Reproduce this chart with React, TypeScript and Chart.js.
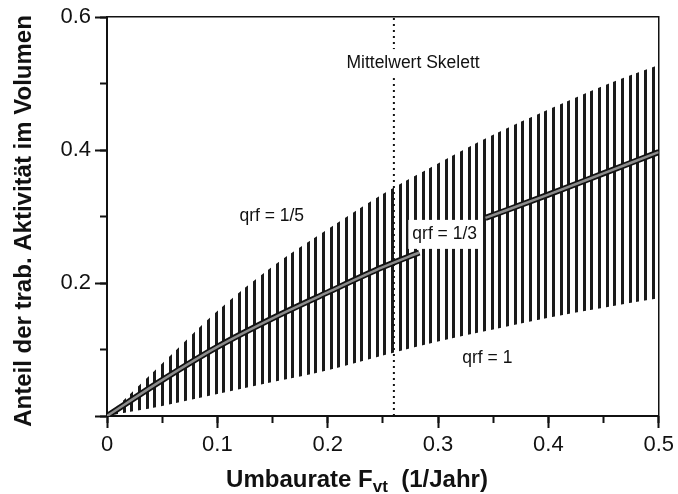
import React, { useEffect, useRef } from 'react';
import { Chart, registerables } from 'chart.js';

Chart.register(...registerables);

// ---- data ----
const envX = [0, 0.05, 0.1, 0.15, 0.2, 0.25, 0.3, 0.35, 0.4, 0.45, 0.5];
const upperQrf5 = [0, 0.079, 0.158, 0.225, 0.281, 0.334, 0.38, 0.423, 0.461, 0.497, 0.528];
const lowerQrf1 = [0, 0.015, 0.033, 0.051, 0.069, 0.091, 0.112, 0.13, 0.148, 0.163, 0.177];
const midX = [0, 0.05, 0.1, 0.15, 0.2, 0.25, 0.283, 0.31, 0.343, 0.4, 0.45, 0.5];
const midQrf3 = [0, 0.054, 0.104, 0.147, 0.186, 0.224, 0.246, null, 0.298, 0.333, 0.365, 0.397];
const skelettX = [0.26, 0.26];
const skelettY = [0, 0.6];
const xTickLabels = ['0', '0.1', '0.2', '0.3', '0.4', '0.5'];
const yTickLabels = ['', '0.2', '0.4', '0.6'];
const annoText = ['Mittelwert Skelett', 'qrf = 1/5', 'qrf = 1/3', 'qrf = 1'];
const annoX = [0.217, 0.12, 0.2767, 0.322];
const annoY = [0.531, 0.3, 0.274, 0.087];
const annoBox = [true, false, true, false];
const yTitle = 'Anteil der trab. Aktivität im Volumen';
const xTitleMain = 'Umbaurate F';
const xTitleSub = 'vt';
const xTitleRest = '  (1/Jahr)';

const FONT = '"Liberation Sans", Arial, Helvetica, sans-serif';
const INK = '#111';

const pts = (xs: number[], ys: (number | null)[]) => xs.map((x, i) => ({ x, y: ys[i] }));

export default function App() {
  const ref = useRef<HTMLCanvasElement>(null);

  useEffect(() => {
    const canvas = ref.current!;
    const ctx = canvas.getContext('2d')!;
    const pc = document.createElement('canvas');
    pc.width = 23;
    pc.height = 4;
    const p = pc.getContext('2d')!;
    p.fillStyle = '#1a1a1a';
    [0, 8, 15].forEach((x) => p.fillRect(x, 0, 3, 4));
    const pattern = ctx.createPattern(pc, 'repeat')!;

    const annotations = {
      id: 'annotations',
      afterDatasetsDraw(chart: any) {
        const c = chart.ctx;
        const xs = chart.scales.x;
        const ys = chart.scales.y;
        c.save();
        c.font = `17.5px ${FONT}`;
        c.textBaseline = 'middle';
        c.textAlign = 'left';
        annoText.forEach((t, i) => {
          const px = xs.getPixelForValue(annoX[i]);
          const py = ys.getPixelForValue(annoY[i]);
          const w = c.measureText(t).width;
          if (annoBox[i]) {
            c.fillStyle = '#fff';
            c.fillRect(px - 4, py - 14, w + 10, 29);
          }
          c.fillStyle = INK;
          c.fillText(t, px, py);
        });
        c.restore();
      },
    };

    const titles = {
      id: 'titles',
      afterDraw(chart: any) {
        const c = chart.ctx;
        c.save();
        c.fillStyle = INK;
        c.font = `bold 24px ${FONT}`;
        c.translate(31, 221);
        c.rotate(-Math.PI / 2);
        c.textAlign = 'center';
        c.textBaseline = 'alphabetic';
        c.fillText(yTitle, 0, 0);
        c.restore();
        c.save();
        c.fillStyle = INK;
        c.textAlign = 'left';
        c.textBaseline = 'alphabetic';
        const big = `bold 24px ${FONT}`;
        const small = `bold 17px ${FONT}`;
        c.font = big;
        const w1 = c.measureText(xTitleMain).width;
        const w3 = c.measureText(xTitleRest).width;
        c.font = small;
        const w2 = c.measureText(xTitleSub).width;
        const total = w1 + w2 + w3;
        const cx = 357;
        let x = cx - total / 2;
        const base = 487;
        c.font = big;
        c.fillText(xTitleMain, x, base);
        x += w1;
        c.font = small;
        c.fillText(xTitleSub, x, base + 5);
        x += w2;
        c.font = big;
        c.fillText(xTitleRest, x, base);
        c.restore();
      },
    };

    const tickFont = { family: FONT, size: 22 };

    const chart = new Chart(canvas, {
      type: 'line',
      data: {
        datasets: [
          {
            label: 'Mittelwert Skelett',
            data: pts(skelettX, skelettY),
            borderColor: INK,
            borderWidth: 2,
            borderDash: [2, 4],
            pointRadius: 0,
            fill: false,
          },
          {
            label: 'qrf = 1/3 inner',
            data: pts(midX, midQrf3),
            borderColor: '#8c8c8c',
            borderWidth: 2.5,
            pointRadius: 0,
            fill: false,
            spanGaps: false,
            cubicInterpolationMode: 'monotone',
          },
          {
            label: 'qrf = 1/3',
            data: pts(midX, midQrf3),
            borderColor: INK,
            borderWidth: 6,
            pointRadius: 0,
            fill: false,
            spanGaps: false,
            cubicInterpolationMode: 'monotone',
          },
          {
            label: 'qrf = 1/5',
            data: pts(envX, upperQrf5),
            borderWidth: 0,
            borderColor: 'rgba(0,0,0,0)',
            backgroundColor: pattern as any,
            pointRadius: 0,
            cubicInterpolationMode: 'monotone',
            fill: '+1',
          },
          {
            label: 'qrf = 1',
            data: pts(envX, lowerQrf1),
            borderWidth: 0,
            borderColor: 'rgba(0,0,0,0)',
            pointRadius: 0,
            cubicInterpolationMode: 'monotone',
            fill: false,
          },
        ] as any,
      },
      options: {
        responsive: false,
        animation: false,
        devicePixelRatio: 1,
        layout: { padding: { top: 16, right: 18, left: 0, bottom: 0 } },
        plugins: { legend: { display: false }, tooltip: { enabled: false } },
        scales: {
          x: {
            type: 'linear',
            position: 'bottom',
            min: 0,
            max: 0.5,
            weight: 2,
            ticks: {
              stepSize: 0.1,
              autoSkip: false,
              maxRotation: 0,
              font: tickFont,
              color: INK,
              padding: 4,
              callback: (_v: any, i: number) => xTickLabels[i] ?? '',
            },
            grid: { drawOnChartArea: false, tickLength: 12, tickWidth: 2, tickColor: INK },
            border: { display: true, color: INK, width: 2 },
            afterFit: (s: any) => { s.height = 78; },
          },
          xMinor: {
            type: 'linear',
            position: 'bottom',
            min: 0,
            max: 0.5,
            weight: 0,
            ticks: { stepSize: 0.05, display: false, autoSkip: false },
            grid: { drawOnChartArea: false, tickLength: 7, tickWidth: 2, tickColor: INK },
            border: { display: false },
            afterFit: (s: any) => { s.height = 0; },
          },
          xTop: {
            type: 'linear',
            position: 'top',
            min: 0,
            max: 0.5,
            ticks: { display: false },
            grid: { display: false },
            border: { display: true, color: INK, width: 1.5 },
            afterFit: (s: any) => { s.height = 0; },
          },
          y: {
            type: 'linear',
            position: 'left',
            min: 0,
            max: 0.6,
            weight: 2,
            ticks: {
              stepSize: 0.2,
              autoSkip: false,
              font: tickFont,
              color: INK,
              padding: 4,
              callback: (_v: any, i: number) => yTickLabels[i] ?? '',
            },
            grid: { drawOnChartArea: false, tickLength: 12, tickWidth: 2, tickColor: INK },
            border: { display: true, color: INK, width: 2 },
            afterFit: (s: any) => { s.width = 107; },
          },
          yMinor: {
            type: 'linear',
            position: 'left',
            min: 0,
            max: 0.6,
            weight: 0,
            ticks: { stepSize: 0.1, display: false, autoSkip: false },
            grid: { drawOnChartArea: false, tickLength: 7, tickWidth: 2, tickColor: INK },
            border: { display: false },
            afterFit: (s: any) => { s.width = 0; },
          },
          yRight: {
            type: 'linear',
            position: 'right',
            min: 0,
            max: 0.6,
            ticks: { display: false },
            grid: { display: false },
            border: { display: true, color: INK, width: 1.5 },
            afterFit: (s: any) => { s.width = 0; },
          },
        },
      } as any,
      plugins: [annotations, titles],
    });
    return () => chart.destroy();
  }, []);

  return (
    <div style={{ position: 'fixed', left: 0, top: 0, width: 678, height: 494, background: '#fff' }}>
      <canvas ref={ref} width={678} height={494} style={{ display: 'block', width: 678, height: 494 }} />
    </div>
  );
}
